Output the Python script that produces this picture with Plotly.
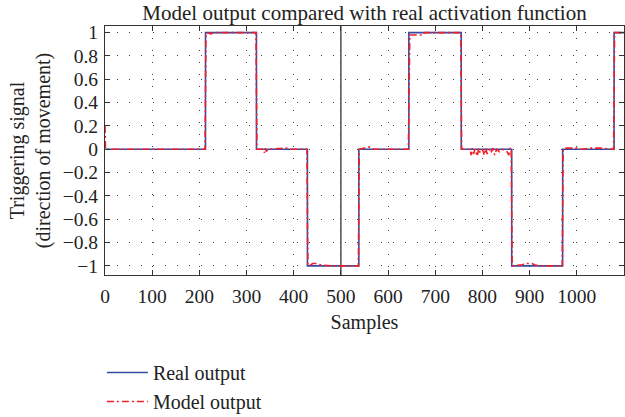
import plotly.graph_objects as go

# Real output (step signal)
real_x = [0, 213, 213, 321, 321, 429, 429, 538, 538, 644, 644, 755, 755, 862, 862, 970, 970, 1079, 1079, 1100]
real_y = [0, 0, 1, 1, 0, 0, -1, -1, 0, 0, 1, 1, 0, 0, -1, -1, 0, 0, 1, 1]

# Model output
model_x = [0, 1, 212, 214, 216, 225, 230, 250, 255, 262, 320, 322, 336, 338, 340, 342, 345, 385, 390,
           428, 430, 433, 440, 450, 455, 480, 537, 539, 560, 570, 643, 646, 675, 677, 754, 756,
           774, 776, 778, 781, 784, 789, 792, 795, 800, 804, 807, 810, 814, 818, 822, 826, 830,
           836, 842, 852, 856, 858, 861, 863, 885, 890, 905, 910, 920, 969, 971, 975, 1000, 1010,
           1030, 1050, 1078, 1080, 1090, 1100]
model_y = [0.2, 0.0, 0.0, 0.99, 1.0, 0.99, 1.0, 1.0, 0.995, 1.0, 1.0, 0.0, 0.0, -0.03, 0.01, -0.02, 0.0, 0.01, 0.0,
           0.0, -0.99, -1.0, -0.98, -0.98, -0.99, -1.0, -1.0, 0.0, 0.02, 0.0, 0.0, 0.98, 0.98, 1.0, 1.0, 0.0,
           0.0, -0.05, 0.01, -0.04, 0.0, -0.06, 0.01, -0.03, 0.0, -0.05, 0.01, -0.04, 0.0, -0.03, 0.01, -0.05, 0.0,
           -0.02, 0.0, -0.02, -0.05, 0.01, 0.0, -1.0, -0.99, -0.98, -0.98, -0.99, -1.0, -1.0, 0.0, 0.01, 0.01, 0.0,
           0.01, 0.01, 0.0, 1.0, 1.0, 1.0]

x_ticks = [0, 100, 200, 300, 400, 500, 600, 700, 800, 900, 1000]
y_ticks = [-1, -0.8, -0.6, -0.4, -0.2, 0, 0.2, 0.4, 0.6, 0.8, 1]
y_ticktext = ["\u22121", "\u22120.8", "\u22120.6", "\u22120.4", "\u22120.2", "0", "0.2", "0.4", "0.6", "0.8", "1"]

FONT = "Liberation Serif"
TXT = "#222"

fig = go.Figure()
fig.add_trace(go.Scatter(x=real_x, y=real_y, mode="lines", name="Real output",
                         line=dict(color="rgb(55,75,165)", width=1.6), legendgroup="a"))
fig.add_trace(go.Scatter(x=model_x, y=model_y, mode="lines", name="Model output",
                         line=dict(color="rgb(240,30,40)", width=1.6, dash="7px,3px,2px,3px"),
                         legendgroup="b"))

fig.add_shape(type="line", x0=500, x1=500, y0=0, y1=1, xref="x", yref="paper",
              line=dict(color="#222", width=1.2), layer="below")

axis_common = dict(showline=True, linecolor="#333", linewidth=1, mirror="ticks",
                   ticks="inside", ticklen=5, tickcolor="#333", zeroline=False,
                   showgrid=True, gridcolor="#444", gridwidth=1, griddash="1px,11px",
                   tickfont=dict(family=FONT, size=19.5, color=TXT), automargin=False)

fig.update_layout(
    width=625, height=417,
    margin=dict(l=105, r=1, t=26, b=142, autoexpand=False),
    paper_bgcolor="white", plot_bgcolor="white",
    font=dict(family=FONT, color=TXT),
    title=dict(text="Model output compared with real activation function",
               x=0.5, xref="paper", xanchor="center", y=0.969, yref="container", yanchor="middle",
               font=dict(family=FONT, size=21, color=TXT)),
    xaxis=dict(range=[0, 1100], tickvals=x_ticks, ticklabelstandoff=4,
               title=dict(text="Samples", font=dict(family=FONT, size=20, color=TXT), standoff=8),
               **axis_common),
    yaxis=dict(range=[-1.078, 1.057], tickvals=y_ticks, ticktext=y_ticktext, ticklabelstandoff=2,
               title=dict(text="Triggering signal<br>(direction of movement)",
                          font=dict(family=FONT, size=20, color=TXT), standoff=6),
               **axis_common),
    legend=dict(x=-0.006, y=-0.313, xanchor="left", yanchor="top", orientation="v",
                font=dict(family=FONT, size=20, color=TXT),
                bgcolor="rgba(0,0,0,0)", tracegroupgap=0, traceorder="grouped",
                itemwidth=41),
)

fig.write_html("out.html")
